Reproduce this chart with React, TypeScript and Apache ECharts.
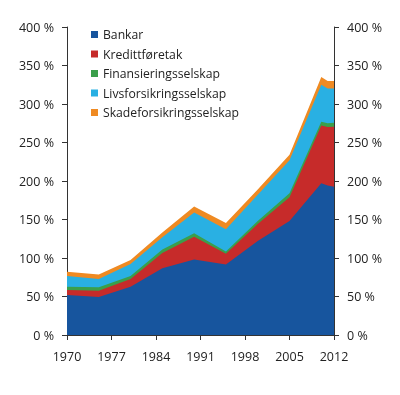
import React, { useEffect, useRef } from "react";
import * as echarts from "echarts";

const years = [1970, 1975, 1980, 1985, 1990, 1995, 2000, 2005, 2010, 2011, 2012];
const bankar = [52, 49.5, 62.7, 86.6, 98, 91.5, 122, 148, 197, 194, 192.5];
const kredittforetak = [6.4, 8, 10, 20, 29.5, 14, 22, 31, 75, 76, 78];
const finansiering = [4.3, 4.5, 3.9, 4.5, 4.5, 3, 4, 5, 5, 5, 5];
const livsforsikring = [14, 10.7, 15.6, 16, 27, 29, 34, 43, 48, 45, 44.7];
const skadeforsikring = [5.6, 6, 5.2, 6, 8, 8, 7, 7, 10, 10, 9.6];

const seriesNames = ["Bankar", "Kredittføretak", "Finansieringsselskap", "Livsforsikringsselskap", "Skadeforsikringsselskap"];
const seriesValues = [bankar, kredittforetak, finansiering, livsforsikring, skadeforsikring];
const colors = ["#17559e", "#c62b2a", "#3a9f4b", "#29b0e3", "#ef8a22"];

const FONT = "Open Sans";

export default function App() {
  const ref = useRef<HTMLDivElement>(null);
  useEffect(() => {
    if (!ref.current) return;
    const chart = echarts.init(ref.current, undefined, { renderer: "svg" });
    const axisLineStyle = { color: "#333", width: 1 };
    const yAxisBase = {
      type: "value" as const,
      min: 0,
      max: 400,
      interval: 50,
      axisLine: { show: true, lineStyle: axisLineStyle },
      axisTick: { show: true, length: 5, lineStyle: axisLineStyle },
      splitLine: { show: false },
      axisLabel: {
        formatter: "{value} %",
        color: "#222",
        fontFamily: FONT,
        fontSize: 12.5,
        margin: 13,
      },
    };
    // cumulative tops of each layer (stacked manually)
    const cumulative = seriesValues.map((_, i) =>
      years.map((_, j) => {
        let s = 0;
        for (let k = 0; k <= i; k++) s += seriesValues[k][j];
        return s;
      })
    );
    const series = seriesNames.map((name, i) => ({
      name,
      type: "line",
      symbol: "none",
      z: 10 - i,
      lineStyle: { width: 0 },
      areaStyle: { color: colors[i], opacity: 1 },
      itemStyle: { color: colors[i] },
      data: years.map((y, j) => [y, cumulative[i][j]]),
    }));
    chart.setOption({
      animation: false,
      color: colors,
      grid: { left: 67, right: 66, top: 27, bottom: 60, containLabel: false },
      legend: {
        orient: "vertical",
        left: 86,
        top: 23,
        itemWidth: 7,
        itemHeight: 7,
        itemGap: 6.5,
        icon: "rect",
        textStyle: { fontFamily: FONT, fontSize: 12.2, color: "#222", lineHeight: 13 },
        data: seriesNames,
      },
      xAxis: {
        type: "value",
        min: 1970,
        max: 2012,
        interval: 7,
        axisLine: { show: true, lineStyle: axisLineStyle },
        axisTick: { show: true, length: 5, lineStyle: axisLineStyle },
        splitLine: { show: false },
        axisLabel: {
          color: "#222",
          fontFamily: FONT,
          fontSize: 12.5,
          margin: 15,
          formatter: (v: number) => String(v),
        },
      },
      yAxis: [
        { ...yAxisBase, position: "left" },
        { ...yAxisBase, position: "right" },
      ],
      series: series.slice().reverse(),
    });
    return () => chart.dispose();
  }, []);
  return (
    <div
      ref={ref}
      style={{ position: "fixed", left: 0, top: 0, width: 400, height: 395 }}
    />
  );
}
